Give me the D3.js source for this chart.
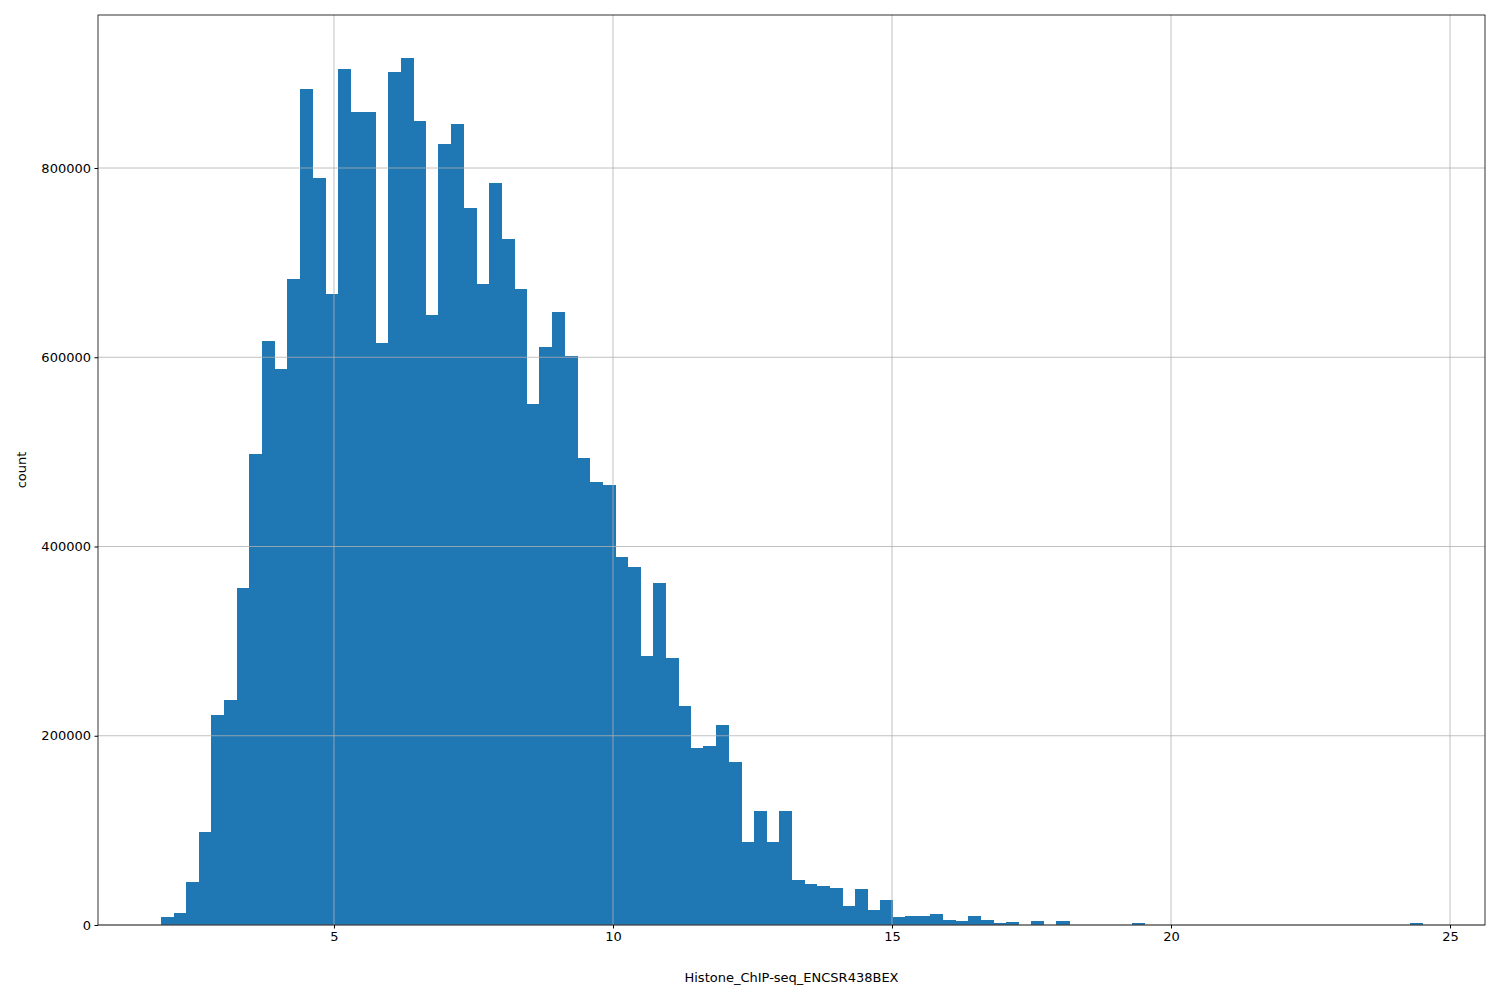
<!DOCTYPE html>
<html><head><meta charset="utf-8">
<script src="https://cdn.jsdelivr.net/npm/d3@7"></script>
<style>body{margin:0;background:#fff}text{font-family:"DejaVu Sans",sans-serif}</style>
</head><body><svg id="c" width="1500" height="1000"></svg>
<script>
const binStart = 1.9, binWidth = 0.226;
const counts = [8000,13000,45000,98000,222000,238000,356000,498000,617000,588000,
683000,883000,789000,667000,905000,859000,859000,615000,901000,916000,
850000,645000,825000,846000,758000,677000,784000,725000,672000,551000,
611000,648000,601000,494000,468000,465000,389000,378000,284000,361000,
282000,231000,187000,189000,211000,172000,88000,120000,88000,121000,
48000,43000,41000,39000,20000,38000,16000,26000,8000,9000,
10000,12000,5000,4000,10000,5000,2000,3000,0,4000,
0,4000,0,0,0,0,0,2000,0,0,
0,0,0,0,0,0,0,0,0,0,
0,0,0,0,0,0,0,0,0,2000];
const xTicks = [5,10,15,20,25];
const yTicks = [0,200000,400000,600000,800000];
const L=98,R=1485,T=15,B=925;
const x = d3.scaleLinear().domain([0.771,25.627]).range([L,R]);
const y = d3.scaleLinear().domain([0,961700]).range([B,T]);
const svg = d3.select("#c");
const g = svg.append("g").attr("shape-rendering","crispEdges");
g.selectAll("rect").data(counts).join("rect")
 .attr("x",(d,i)=>x(binStart+i*binWidth))
 .attr("width",(d,i)=>x(binStart+(i+1)*binWidth)-x(binStart+i*binWidth)+0.6)
 .attr("y",d=>y(d)).attr("height",d=>B-y(d)).attr("fill","#1f77b4");
const grid = svg.append("g");
grid.selectAll(".vx").data(xTicks).join("line").attr("x1",d=>x(d)).attr("x2",d=>x(d)).attr("y1",T).attr("y2",B).attr("stroke","#b0b0b0").attr("stroke-width",0.8);
grid.selectAll(".hy").data(yTicks).join("line").attr("y1",d=>y(d)).attr("y2",d=>y(d)).attr("x1",L).attr("x2",R).attr("stroke","#b0b0b0").attr("stroke-width",0.8);
const xa = svg.append("g").attr("transform",`translate(0,${B})`).call(d3.axisBottom(x).tickValues(xTicks).tickSize(3.5).tickPadding(3.5).tickFormat(d3.format("d")));
const ya = svg.append("g").attr("transform",`translate(${L},0)`).call(d3.axisLeft(y).tickValues(yTicks).tickSize(3.5).tickPadding(3.5).tickFormat(d3.format("d")));
[xa,ya].forEach(a=>{a.select(".domain").remove();a.selectAll("text").attr("font-size",13).attr("fill","#000").style("font-family","DejaVu Sans");a.selectAll("line").attr("stroke","#000");});
svg.append("rect").attr("x",L).attr("y",T).attr("width",R-L).attr("height",B-T).attr("fill","none").attr("stroke","#000").attr("stroke-width",0.8);
svg.append("text").attr("x",(L+R)/2).attr("y",982).attr("text-anchor","middle").attr("font-size",13).text("Histone_ChIP-seq_ENCSR438BEX");
svg.append("text").attr("transform",`translate(26,${(T+B)/2}) rotate(-90)`).attr("text-anchor","middle").attr("font-size",13).text("count");
</script></body></html>
